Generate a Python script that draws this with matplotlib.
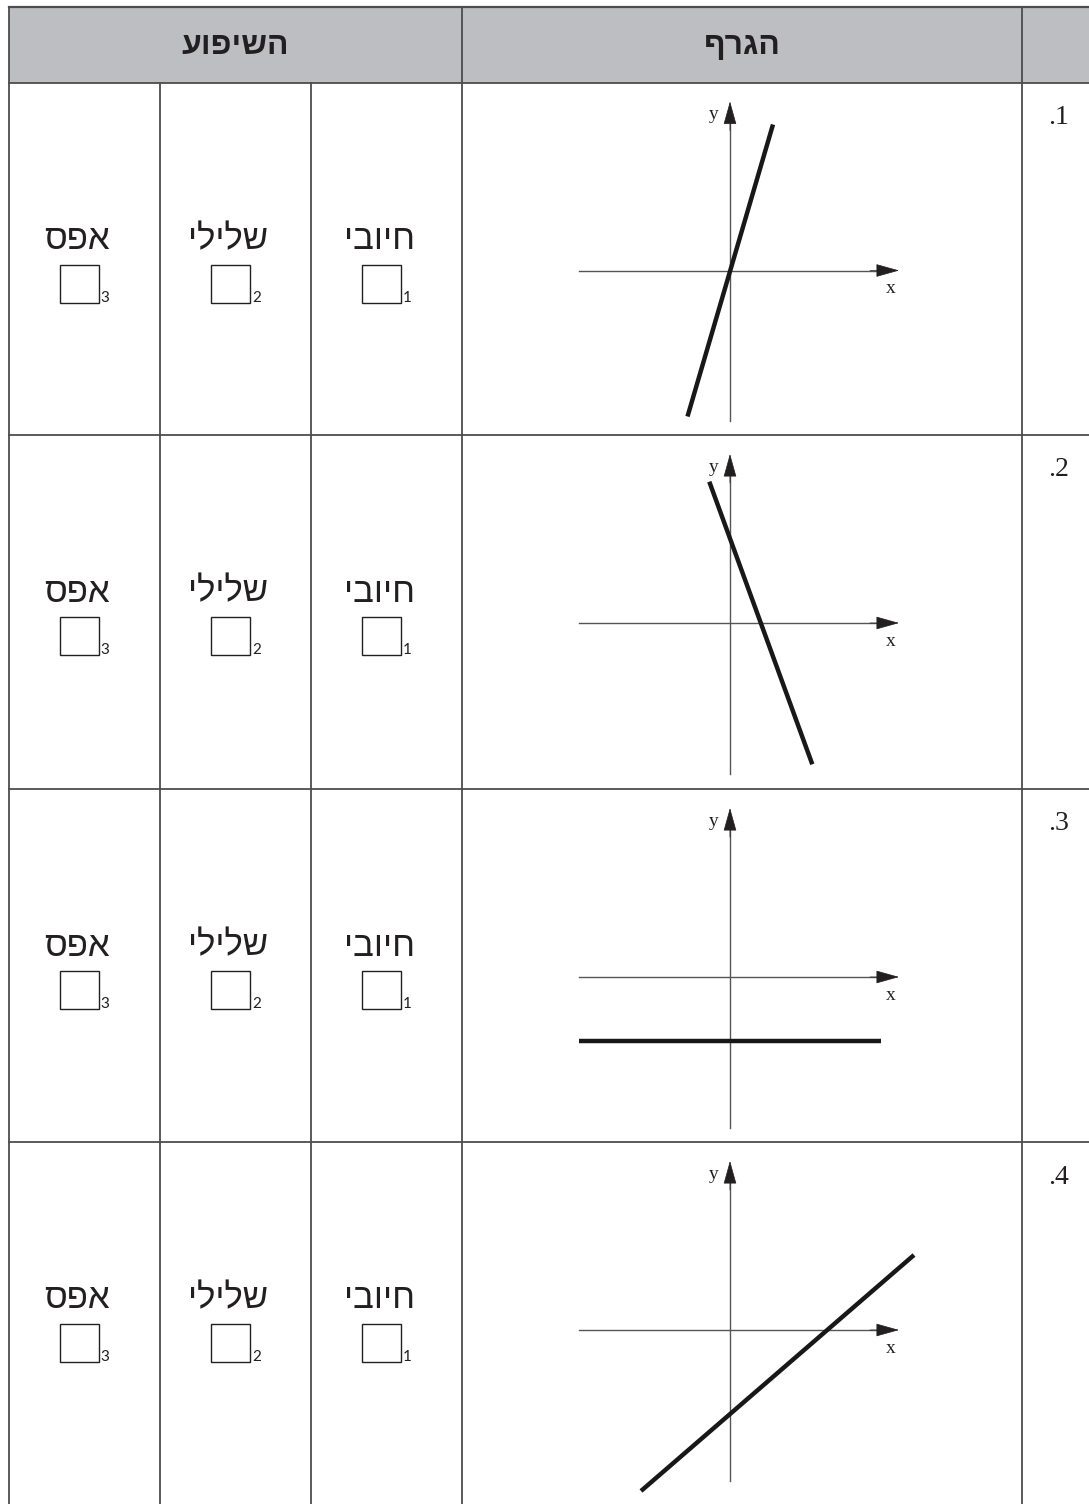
import matplotlib
matplotlib.use("Agg")
import matplotlib.pyplot as plt
from matplotlib.patches import Rectangle

# --- content ---
header_slope = "השיפוע"
header_graph = "הגרף"
choice_labels = ["חיובי", "שלילי", "אפס"]     # right-to-left columns
choice_numbers = ["1", "2", "3"]
row_labels = [".1", ".2", ".3", ".4"]

# line segment in each small graph (graph units, origin at axes crossing)
line_x0 = [-4.25, -2.07, -15.1, -8.9]
line_y0 = [-14.6, 14.13, -6.4, -16.1]
line_x1 = [4.3, 8.23, 15.05, 18.4]
line_y1 = [14.6, -14.13, -6.4, 7.5]

# --- layout (pixels) ---
W, H = 1089, 1504
left, top, head_bot = 8.7, 7.3, 82.5
col_x = [8.7, 160, 311, 462, 1022]
row_top = [82.5, 435, 789, 1142]
line_col = "#4d4d4d"
heb = ["Liberation Sans", "DejaVu Sans"]
ink = "#231f20"


def rtl(s):
    return s[::-1]


fig = plt.figure(figsize=(W / 100, H / 100), dpi=100)
ax = fig.add_axes([0, 0, 1, 1])
ax.set_xlim(0, W)
ax.set_ylim(H, 0)
ax.axis("off")

# header
ax.add_patch(Rectangle((left, top), W - left, head_bot - top, color="#bdbec1", zorder=0))
ax.text((col_x[0] + col_x[3]) / 2, (top + head_bot) / 2 + 1, rtl(header_slope),
        ha="center", va="center", fontsize=23, fontweight="bold", family=heb, color=ink)
ax.text((col_x[3] + col_x[4]) / 2, (top + head_bot) / 2 + 1, rtl(header_graph),
        ha="center", va="center", fontsize=23, fontweight="bold", family=heb, color=ink)

# grid lines
ax.plot([left, W], [top, top], color=line_col, lw=1.6)
for y in row_top:
    ax.plot([left, W], [y, y], color=line_col, lw=1.3)
for i, x in enumerate(col_x):
    y_start = head_bot if i in (1, 2) else top
    ax.plot([x, x], [y_start, H], color=line_col, lw=1.3)

for r, rt in enumerate(row_top):
    # row number
    ax.text(1059, rt + 35, row_labels[r], ha="center", va="center",
            fontsize=20, family=["Liberation Serif", "DejaVu Serif"], color=ink)

    # choice cells
    for c in range(3):
        cx = (col_x[3 - c] + col_x[2 - c]) / 2
        ax.text(cx - 7, rt + 157, rtl(choice_labels[c]), ha="center", va="center",
                fontsize=25, family=heb, color=ink)
        bx, by = cx - 24.5, rt + 182
        ax.add_patch(Rectangle((bx, by), 39, 38, fill=False, ec=ink, lw=1.0))
        ax.text(bx + 41, by + 33, choice_numbers[c], ha="left", va="center",
                fontsize=11, family=["Lato", "DejaVu Sans"], color=ink)

    # small graph: 1 unit = 10 px, origin at (730, rt+188)
    ox, oy = 730, rt + 188
    span = 21.0
    g = fig.add_axes([(ox - span * 10) / W, 1 - (oy + span * 10) / H,
                      2 * span * 10 / W, 2 * span * 10 / H])
    g.set_xlim(-span, span)
    g.set_ylim(-span, span)
    g.axis("off")
    g.patch.set_alpha(0)

    # axes: thin gray shaft + black arrow head
    g.plot([-15.1, 15.5], [0, 0], color="#555555", lw=1.0)
    g.plot([0, 0], [-15.1, 15.5], color="#555555", lw=1.0)
    head = dict(arrowstyle="-|>,head_length=1.5,head_width=0.42", color=ink,
                lw=0.5, shrinkA=0, shrinkB=0)
    g.annotate("", xy=(16.9, 0), xytext=(14.0, 0), arrowprops=head)
    g.annotate("", xy=(0, 16.9), xytext=(0, 14.0), arrowprops=head)
    g.text(-1.6, 15.6, "y", ha="center", va="center", fontsize=14,
           family="Liberation Serif", color=ink)
    g.text(16.1, -1.8, "x", ha="center", va="center", fontsize=14,
           family="Liberation Serif", color=ink)

    g.plot([line_x0[r], line_x1[r]], [line_y0[r], line_y1[r]], color="#1a1718",
           lw=3.2, solid_capstyle="butt", clip_on=False)

fig.savefig("out.png", dpi=100)
